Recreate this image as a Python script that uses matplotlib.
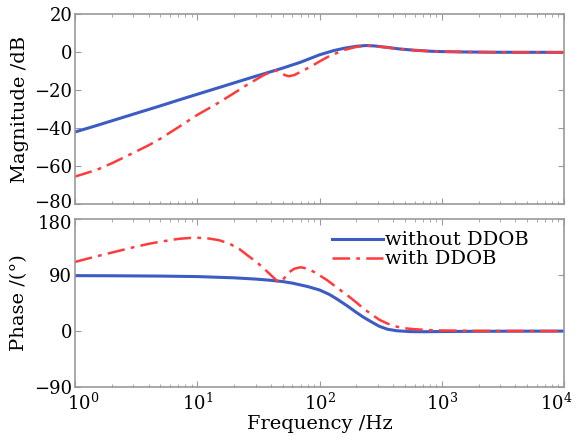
import numpy as np
import matplotlib.pyplot as plt
from matplotlib.ticker import LogLocator, NullFormatter
from matplotlib.transforms import ScaledTranslation

plt.rcParams['font.family'] = ['DejaVu Serif']
plt.rcParams['font.size'] = 14
plt.rcParams['mathtext.fontset'] = 'dejavuserif'

# magnitude (dB)
f_mag_wo = [1, 1.5, 2, 3, 5, 7, 10, 15, 20, 30, 40, 50, 70, 100, 130, 160, 200, 240,
            280, 350, 450, 600, 800, 1000, 1500, 3000, 10000]
mag_wo = [-42, -38.6, -36.1, -32.6, -28.2, -25.2, -22.1, -18.6, -16.1, -12.6, -10.2,
          -8.3, -5.2, -1.3, 0.9, 2.2, 3.2, 3.6, 3.4, 2.7, 1.8, 1.1, 0.6, 0.4, 0.2, 0.05, 0]

f_mag_w = [1, 1.5, 2, 3, 4, 5, 7, 10, 15, 20, 25, 30, 35, 40, 44, 48, 52, 56, 62, 70,
           85, 100, 120, 160, 200, 240, 280, 350, 450, 600, 800, 1000, 1500, 3000, 10000]
mag_w = [-65.5, -62, -58.5, -53, -49, -45.5, -39.5, -33, -26.5, -21.5, -17.5, -14.5,
         -12, -10.3, -9.6, -10.5, -12, -12.6, -12, -10.3, -7.5, -4.8, -2, 1.3, 2.9,
         3.5, 3.3, 2.6, 1.8, 1.1, 0.6, 0.4, 0.2, 0.05, 0]

# phase (deg)
f_ph_wo = [1, 2, 5, 10, 20, 30, 40, 50, 60, 80, 100, 120, 140, 170, 200, 230, 270,
           310, 360, 430, 550, 700, 1000, 2000, 10000]
ph_wo = [89, 88.8, 88.3, 87.5, 85.5, 83.5, 81.5, 79.5, 77, 71.5, 66, 59, 51, 40, 30,
         22, 14, 7.5, 3, 0.5, -0.8, -1, -0.7, -0.3, 0]

f_ph_w = [1, 1.5, 2, 3, 4, 5, 7, 9.5, 12, 15, 18, 22, 26, 30, 34, 38, 42, 45, 47, 49,
          52, 56, 62, 70, 80, 90, 100, 115, 130, 150, 170, 200, 230, 270, 310, 360,
          430, 500, 600, 800, 1000, 2000, 10000]
ph_w = [111, 120, 126, 134.5, 140, 143.5, 148, 150, 149, 146, 141, 132, 121, 112, 103,
        94, 86, 80.5, 78, 80, 86, 94, 100, 102.5, 100, 95, 89.5, 82, 74, 65, 57, 46,
        36, 26, 18, 12, 7, 4.5, 3, 1.5, 1, 0.3, 0]

freq_ticks = [1, 10, 100, 1000, 10000]

blue = '#3c5cc4'
red = '#ff3b3b'
red_ls = (0, (7, 2.5, 1.5, 2.5))

fig = plt.figure(figsize=(5.75, 4.37), dpi=100)
ax1 = fig.add_axes([0.1304, 0.533, 0.8506, 0.434])
ax2 = fig.add_axes([0.1304, 0.114, 0.8506, 0.385])

ax1.plot(f_mag_wo, mag_wo, color=blue, lw=2.2)
ax1.plot(f_mag_w, mag_w, color=red, lw=1.8, ls=red_ls)
ax2.plot(f_ph_wo, ph_wo, color=blue, lw=2.2, label='without DDOB')
ax2.plot(f_ph_w, ph_w, color=red, lw=1.8, ls=red_ls, label='with DDOB')

for ax in (ax1, ax2):
    ax.set_xscale('log')
    ax.set_xlim(1, 1e4)
    ax.set_xticks(freq_ticks)
    ax.xaxis.set_minor_locator(LogLocator(base=10, subs=np.arange(2, 10), numticks=10))
    ax.xaxis.set_minor_formatter(NullFormatter())
    ax.tick_params(which='both', direction='in', top=True, right=True, color='#999999')
    ax.tick_params(which='major', length=4, pad=2, labelsize=13)
    ax.tick_params(which='minor', length=2)
    for s in ax.spines.values():
        s.set_color('#999999')
        s.set_linewidth(1.2)

ax1.set_ylim(-80, 20)
ax1.set_yticks([-80, -60, -40, -20, 0, 20])
ax1.tick_params(labelbottom=False)
ax1.set_ylabel('Magnitude /dB')

ax2.set_ylim(-90, 180)
ax2.set_yticks([-90, 0, 90, 180])
ax2.tick_params(axis='x', labelsize=13, pad=4)
ax2.set_ylabel('Phase /(°)')
ax2.set_xlabel('Frequency /Hz', labelpad=1)
ax2.legend(loc='upper left', bbox_to_anchor=(0.49, 1.03), frameon=False,
           handlelength=2.6, handletextpad=0.1, labelspacing=0.05, fontsize=14)

# nudge the crowded end labels like in the original
def nudge(lab, dx, dy):
    lab.set_transform(lab.get_transform() + ScaledTranslation(dx / 72, dy / 72, fig.dpi_scale_trans))

xlabels = ax2.get_xticklabels()
nudge(xlabels[0], 6, 0)
nudge(xlabels[-1], -6, 0)
nudge(ax1.get_yticklabels()[0], 0, 2)
nudge(ax2.get_yticklabels()[-1], 0, -2)

fig.align_ylabels([ax1, ax2])
plt.savefig('out.png', dpi=100)
